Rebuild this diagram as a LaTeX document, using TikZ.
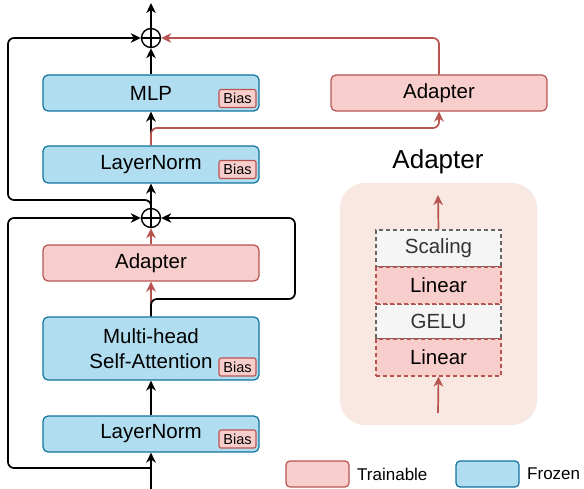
\documentclass[tikz,border=0pt]{standalone}
\usepackage{fontspec}
\setmainfont{Liberation Sans}
\usetikzlibrary{arrows.meta}
\definecolor{frzfill}{HTML}{B1DDF0}
\definecolor{frzline}{HTML}{10739E}
\definecolor{trnfill}{HTML}{F8CECC}
\definecolor{trnline}{HTML}{B85450}
\definecolor{bgpeach}{HTML}{F8E8E1}
\definecolor{grayfill}{HTML}{F5F5F5}
\definecolor{grayline}{HTML}{666666}
\definecolor{graytext}{HTML}{333333}
\tikzset{
  mainfont/.style={font=\fontsize{20.5}{25}\selectfont},
  frozen/.style={draw=frzline,fill=frzfill,line width=1.2pt,rounded corners=5pt,minimum width=216pt,inner sep=0pt,mainfont,align=center},
  trainable/.style={draw=trnline,fill=trnfill,line width=1.2pt,rounded corners=5pt,minimum width=216pt,inner sep=0pt,mainfont,align=center},
  biasbox/.style={draw=trnline,fill=trnfill,line width=1.1pt,rounded corners=2pt,minimum width=37pt,minimum height=18pt,inner sep=0pt,font=\fontsize{14.5}{14.5}\selectfont},
  sumnode/.style={circle,draw,line width=1.4pt,minimum size=19pt,inner sep=0pt,
    path picture={\draw[line width=1.4pt] (path picture bounding box.north) -- (path picture bounding box.south) (path picture bounding box.west) -- (path picture bounding box.east);}},
  arr/.style={line width=1.7pt,-{Stealth[length=10pt,width=9.5pt,inset=3pt]}},
  conn/.style={line width=1.7pt,rounded corners=6pt},
  redarr/.style={arr,draw=trnline,color=trnline},
  stackgray/.style={draw=grayline,fill=grayfill,dashed,dash pattern=on 4pt off 3pt,line width=1.1pt,minimum width=125pt,inner sep=0pt,mainfont,text=graytext},
  stackred/.style={draw=trnline,fill=trnfill,dashed,dash pattern=on 4pt off 3pt,line width=1.1pt,minimum width=125pt,inner sep=0pt,mainfont},
  legendbox/.style={line width=1.2pt,rounded corners=4pt,minimum width=63pt,minimum height=26pt,inner sep=0pt},
  legendtext/.style={anchor=west,font=\fontsize{17}{17}\selectfont,inner sep=0pt}
}
\begin{document}
\begin{tikzpicture}[x=1pt,y=-1pt]
\useasboundingbox (0,0) rectangle (584,489);

% adapter detail background
\node[fill=bgpeach,rounded corners=25pt,minimum width=197pt,minimum height=242pt,inner sep=0pt] (bg) at (438.5,304) {};
\node[font=\fontsize{26}{26}\selectfont] (title) at (438,162) {Adapter};

% main column boxes
\node[frozen,minimum height=36pt] (mlp) at (151,93) {MLP};
\node[frozen,minimum height=37pt] (ln1) at (151,164.5) {LayerNorm};
\node[trainable,minimum height=36pt] (ad1) at (151,263) {Adapter};
\node[frozen,minimum height=63pt] (mhsa) at (151,348.5) {Multi-head\\Self-Attention};
\node[frozen,minimum height=36pt] (ln2) at (151,434) {LayerNorm};
\node[trainable,minimum height=36pt] (ad2) at (439,93) {Adapter};

% bias badges
\node[biasbox] (b1) at (237.5,98.5) {Bias};
\node[biasbox] (b2) at (237.5,169.5) {Bias};
\node[biasbox] (b3) at (237.5,367) {Bias};
\node[biasbox] (b4) at (237.5,439) {Bias};

% sums
\node[sumnode] (p1) at (151,38) {};
\node[sumnode] (p2) at (151,218) {};

% helper coordinates
\coordinate (out) at (151,3);
\coordinate (in) at (151,489);
\coordinate (c1) at (8,200);
\coordinate (c2) at (8,468);
\coordinate (c3) at (295,299);
\coordinate (c4) at (300,128);

% main flow
\draw[arr] (in) -- (ln2.south);
\draw[arr] (ln2.north) -- (mhsa.south);
\draw[redarr] (mhsa.north) -- (ad1.south);
\draw[redarr] (ad1.north) -- (p2.south);
\draw[arr] (p2.north) -- (ln1.south);
\draw[arr] (ln1.north) -- (mlp.south);
\draw[arr] (mlp.north) -- (p1.south);
\draw[arr] (p1.north) -- (out);

% skips
\draw[arr,conn] (in |- c2) -- (c2) |- (p2.west);
\draw[arr,conn] (mhsa.north) |- (c3) |- (p2.east);
\draw[arr,conn] (p2.north) |- (c1) |- (p1.west);

% adapter branch
\draw[redarr,conn] (ln1.north) |- (c4) -| (ad2.south);
\draw[redarr,conn] (ad2.north) |- (p1.east);

% adapter internals
\node[stackgray,minimum height=37pt] (sc) at (438.5,248.5) {Scaling};
\node[stackgray,minimum height=35pt] (ge) at (438.5,321.5) {GELU};
\node[stackred,minimum height=37pt] (lb) at (438.5,285.5) {Linear};
\node[stackred,minimum height=37pt] (la) at (438.5,357.5) {Linear};
\coordinate (ain) at (438,413);
\coordinate (aout) at (438,195);
\draw[redarr] (ain) -- (la.south);
\draw[redarr] (sc.north) -- (aout);

% legend
\node[legendbox,draw=trnline,fill=trnfill] (lt) at (317.5,474) {};
\node[legendtext] (ltt) at (357,474) {Trainable};
\node[legendbox,draw=frzline,fill=frzfill] (lf) at (487.5,474) {};
\node[legendtext] (lft) at (527,474) {Frozen};
\end{tikzpicture}
\end{document}
